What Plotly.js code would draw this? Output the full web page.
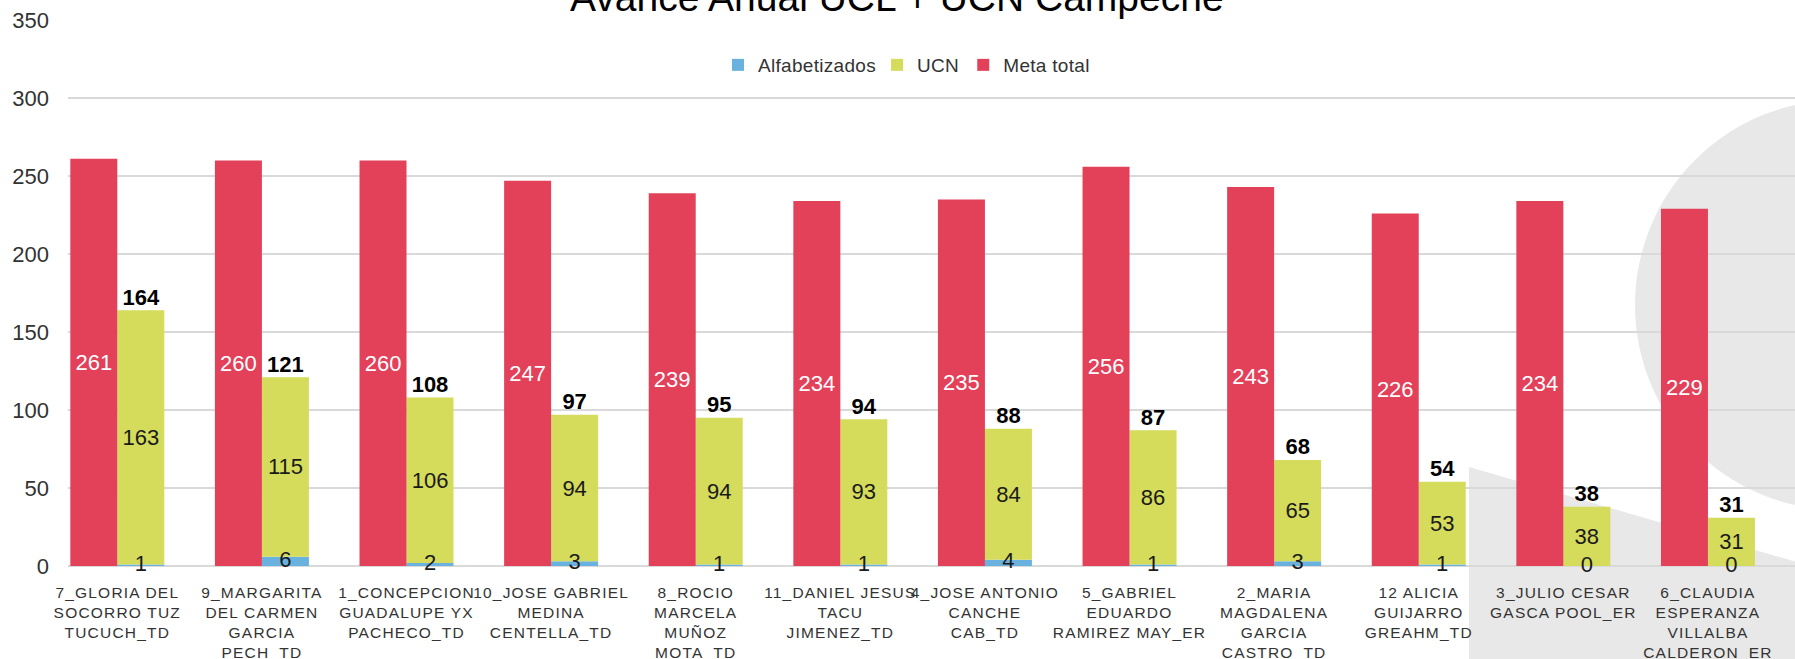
<!DOCTYPE html>
<html>
<head>
<meta charset="utf-8">
<script src="https://cdn.plot.ly/plotly-3.0.1.min.js"></script>
<style>
  html, body { margin: 0; padding: 0; background: #ffffff; }
  #chart { width: 1795px; height: 659px; }
  #chart .xtick text { letter-spacing: 1.2px; }
  #chart .legendtext { letter-spacing: 0.3px; }
</style>
</head>
<body>
<div id="chart"></div>
<script>
// ---- data ----
const categories = [
  "7_GLORIA DEL<br>SOCORRO TUZ<br>TUCUCH_TD",
  "9_MARGARITA<br>DEL CARMEN<br>GARCIA<br>PECH_TD",
  "1_CONCEPCION<br>GUADALUPE YX<br>PACHECO_TD",
  "10_JOSE GABRIEL<br>MEDINA<br>CENTELLA_TD",
  "8_ROCIO<br>MARCELA<br>MUÑOZ<br>MOTA_TD",
  "11_DANIEL JESUS<br>TACU<br>JIMENEZ_TD",
  "4_JOSE ANTONIO<br>CANCHE<br>CAB_TD",
  "5_GABRIEL<br>EDUARDO<br>RAMIREZ MAY_ER",
  "2_MARIA<br>MAGDALENA<br>GARCIA<br>CASTRO_TD",
  "12 ALICIA<br>GUIJARRO<br>GREAHM_TD",
  "3_JULIO CESAR<br>GASCA POOL_ER",
  "6_CLAUDIA<br>ESPERANZA<br>VILLALBA<br>CALDERON_ER"
];
const alfabetizados = [1, 6, 2, 3, 1, 1, 4, 1, 3, 1, 0, 0];
const ucn           = [163, 115, 106, 94, 94, 93, 84, 86, 65, 53, 38, 31];
const metaTotal     = [261, 260, 260, 247, 239, 234, 235, 256, 243, 226, 234, 229];
const yTicks        = [0, 50, 100, 150, 200, 250, 300, 350];
const titleText     = "Avance Anual UCL + UCN Campeche";

// ---- derived ----
const idx = categories.map((_, i) => i);
const totals = idx.map(i => alfabetizados[i] + ucn[i]);
const W = 0.325;                         // bar width in category units
const xRight = idx.map(i => i + W / 2);  // centre of the stacked bar

const FONT = "Liberation Sans, Arial, sans-serif";
const RED = "#E3405A", YEL = "#D5DB5A", BLUE = "#69B2E0";

const traces = [
  {
    type: "bar", name: "Alfabetizados", x: idx, y: alfabetizados,
    width: W, offset: 0, marker: { color: BLUE },
    hoverinfo: "skip"
  },
  {
    type: "bar", name: "UCN", x: idx, y: ucn, base: alfabetizados,
    width: W, offset: 0, marker: { color: YEL },
    text: ucn.map(String), textposition: "inside", insidetextanchor: "middle",
    textangle: 0, textfont: { family: FONT, size: 22, color: "#1a1a1a" },
    hoverinfo: "skip"
  },
  {
    type: "bar", name: "Meta total", x: idx, y: metaTotal,
    width: W, offset: -W, marker: { color: RED },
    text: metaTotal.map(String), textposition: "inside", insidetextanchor: "middle",
    textangle: 0, textfont: { family: FONT, size: 22, color: "#ffffff" },
    hoverinfo: "skip"
  },
  {
    type: "scatter", mode: "text", x: xRight, y: alfabetizados.map(v => v / 2),
    text: alfabetizados.map(String), textposition: "middle center",
    textfont: { family: FONT, size: 22, color: "#1a1a1a" },
    showlegend: false, hoverinfo: "skip", cliponaxis: false
  },
  {
    type: "scatter", mode: "text", x: xRight, y: totals,
    text: totals.map(v => "<b>" + v + "</b>"), textposition: "top center",
    textfont: { family: FONT, size: 22, color: "#000000" },
    showlegend: false, hoverinfo: "skip", cliponaxis: false
  }
];

const L = 68, R = 0, T = 20, B = 93;
const plotW = 1795 - L - R, plotH = 659 - T - B;
const px2x = px => (px - L) / plotW;
const px2y = py => (659 - B - py) / plotH;

const layout = {
  width: 1795, height: 659,
  margin: { l: L, r: R, t: T, b: B, pad: 0 },
  paper_bgcolor: "#ffffff", plot_bgcolor: "rgba(0,0,0,0)",
  barmode: "overlay",
  showlegend: true,
  font: { family: FONT, color: "#333333" },
  legend: {
    orientation: "h", x: px2x(905), xanchor: "center", y: px2y(65), yanchor: "middle",
    bgcolor: "rgba(0,0,0,0)", font: { family: FONT, size: 19, color: "#333333" },
    traceorder: "normal"
  },
  xaxis: {
    type: "linear", range: [-0.341, 11.602],
    tickmode: "array", tickvals: idx, ticktext: categories,
    tickangle: 0,
    showgrid: false, zeroline: false, showline: false, ticks: "",
    tickfont: { family: FONT, size: 15.5, color: "#333333" },
    ticklabelstandoff: 15, fixedrange: true
  },
  yaxis: {
    range: [0, 350], tickmode: "array", tickvals: yTicks,
    showgrid: true, gridcolor: "#d9d9d9", gridwidth: 2,
    zeroline: true, zerolinecolor: "#d9d9d9", zerolinewidth: 2,
    showline: false, ticks: "",
    tickfont: { family: FONT, size: 22, color: "#333333" },
    ticklabelstandoff: 18, fixedrange: true
  },
  annotations: [{
    xref: "paper", yref: "paper", x: px2x(897), y: px2y(21),
    xanchor: "center", yanchor: "bottom", showarrow: false,
    text: titleText, font: { family: FONT, size: 39, color: "#000000" }
  }],
  shapes: [
    {
      type: "circle", xref: "paper", yref: "paper", layer: "below",
      x0: px2x(1635), x1: px2x(2045), y0: px2y(100), y1: px2y(510),
      fillcolor: "#e8e8e8", line: { width: 0 }
    },
    {
      type: "path", xref: "paper", yref: "paper", layer: "below",
      path: "M " + px2x(1469) + " " + px2y(467) +
            " L " + px2x(1800) + " " + px2y(563) +
            " L " + px2x(1800) + " " + px2y(670) +
            " L " + px2x(1469) + " " + px2y(670) + " Z",
      fillcolor: "#e8e8e8", line: { width: 0 }
    }
  ]
};

Plotly.newPlot("chart", traces, layout, { displayModeBar: false, staticPlot: true });
</script>
</body>
</html>
